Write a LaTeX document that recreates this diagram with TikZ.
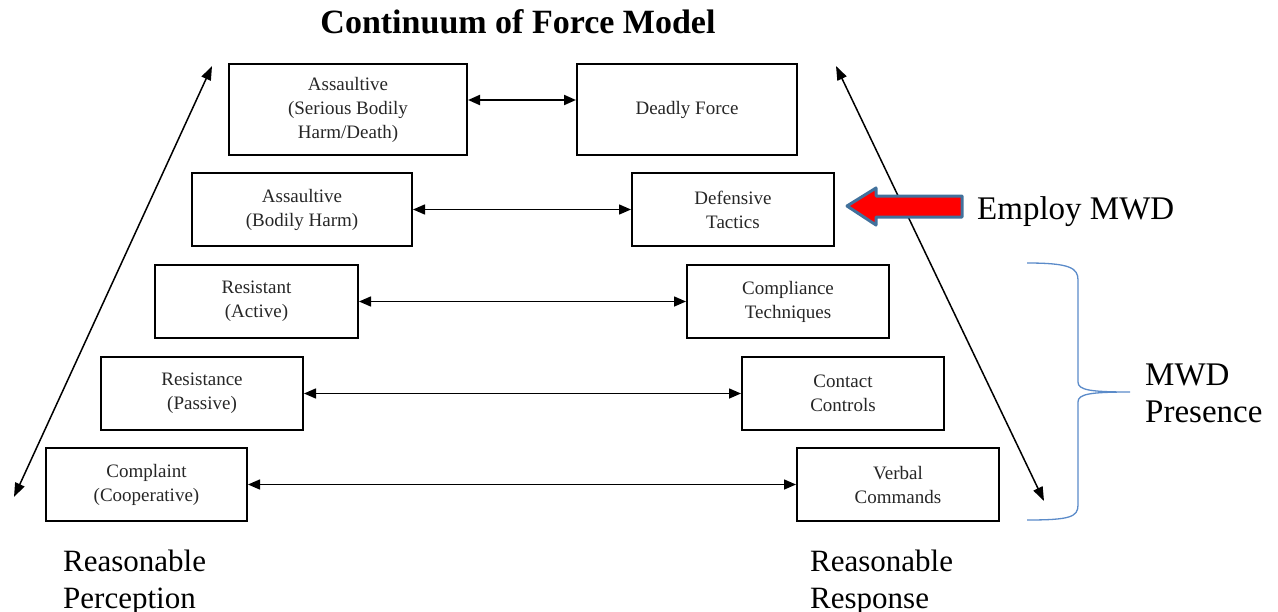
\documentclass[tikz,border=0pt]{standalone}
\usepackage{fontspec}
\setmainfont{Liberation Serif}
\usetikzlibrary{arrows.meta}
\definecolor{bracecol}{HTML}{5B8BC9}
\definecolor{arrowedge}{HTML}{41719C}
\tikzset{
  box/.style={draw=black, line width=2pt, inner sep=0pt, align=center,
    font=\fontsize{19}{24}\selectfont, text=black!85},
  link/.style={line width=1.5pt, {Triangle[length=12pt,width=10pt]}-{Triangle[length=12pt,width=10pt]}},
  diag/.style={line width=1.5pt, {Triangle[length=14pt,width=10pt]}-{Triangle[length=14pt,width=10pt]}},
  biglabel/.style={align=left, anchor=north west, inner sep=0pt, font=\fontsize{31}{37}\selectfont},
}
\begin{document}
\begin{tikzpicture}[x=1pt,y=-1pt]
\useasboundingbox (0,0) rectangle (1278,611);
% title
\node[font=\bfseries\fontsize{34}{38}\selectfont] (title) at (518,22) {Continuum of Force Model};
% boxes
\node[box, minimum width=238pt, minimum height=91pt] (a1) at (348,109.5) {Assaultive\\(Serious Bodily\\Harm/Death)};
\node[box, minimum width=220pt, minimum height=91pt] (b1) at (687,109.5) {Deadly Force};
\node[box, minimum width=220pt, minimum height=73pt] (a2) at (302,209.5) {Assaultive\\(Bodily Harm)};
\node[box, minimum width=202pt, minimum height=73pt] (b2) at (733,209.5) {Defensive\\Tactics};
\node[box, minimum width=203pt, minimum height=73pt] (a3) at (256.5,301.5) {Resistant\\(Active)};
\node[box, minimum width=202pt, minimum height=73pt] (b3) at (788,301.5) {Compliance\\Techniques};
\node[box, minimum width=202pt, minimum height=73pt] (a4) at (202,393.5) {Resistance\\(Passive)};
\node[box, minimum width=202pt, minimum height=73pt] (b4) at (843,393.5) {Contact\\Controls};
\node[box, minimum width=201pt, minimum height=73pt] (a5) at (146.5,484.5) {Complaint\\(Cooperative)};
\node[box, minimum width=202pt, minimum height=73pt] (b5) at (898,484.5) {Verbal\\Commands};
% horizontal connectors
\draw[link, line width=2pt] (a1.east |- 0,100) -- (b1.west |- 0,100);
\draw[link] (a2) -- (b2);
\draw[link] (a3) -- (b3);
\draw[link] (a4) -- (b4);
\draw[link] (a5) -- (b5);
% diagonal arrows
\coordinate (lt) at (212,66);
\coordinate (lb) at (14,497);
\coordinate (rt) at (836,66);
\coordinate (rb) at (1044,501);
\draw[diag] (lb) -- (lt);
\draw[diag] (rt) -- (rb);
% red arrow
\draw[draw=arrowedge, fill=red, line width=3pt, line join=round]
  (847,206) -- (876,188) -- (876,196) -- (962,196) -- (962,217) -- (876,217) -- (876,225) -- cycle;
\node[anchor=west, inner sep=0pt, font=\fontsize{33}{37}\selectfont] (employ) at (977,212) {Employ MWD};
% brace
\draw[bracecol, line width=1.3pt]
  (1027,263) .. controls (1070,263) and (1078,268) .. (1078,280)
  -- (1078,382) .. controls (1078,390) and (1090,392) .. (1130,392)
  .. controls (1090,392) and (1078,394) .. (1078,402)
  -- (1078,505) .. controls (1078,517) and (1070,520) .. (1027,520);
\node[biglabel, font=\fontsize{33}{37}\selectfont] (presence) at (1145,364) {MWD\\Presence};
\node[biglabel] (perc) at (63,550) {Reasonable\\Perception};
\node[biglabel] (resp) at (810,550) {Reasonable\\Response};
\end{tikzpicture}
\end{document}
